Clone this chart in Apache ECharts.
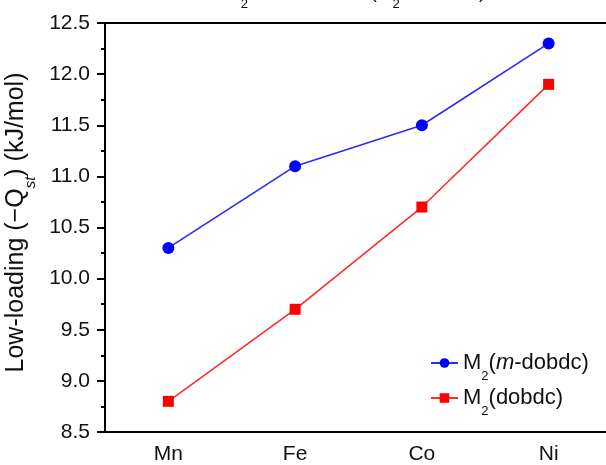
<!DOCTYPE html>
<html>
<head>
<meta charset="utf-8">
<script src="https://cdn.jsdelivr.net/npm/echarts@6/dist/echarts.min.js"></script>
<style>
html,body{margin:0;padding:0;background:#fff;}
#c{width:606px;height:465px;}
</style>
</head>
<body>
<div id="c"></div>
<script>
var categories = ['Mn', 'Fe', 'Co', 'Ni'];
var mDobdc = [10.3, 11.1, 11.5, 12.3];
var dobdc = [8.8, 9.7, 10.7, 11.9];
var yMin = 8.5, yMax = 12.5, yStep = 0.5;

var FONT = 'Liberation Sans, Arial, sans-serif';
var chart = echarts.init(document.getElementById('c'));

chart.setOption({
  animation: false,
  backgroundColor: '#fff',
  title: {
    text: '{n|H}{s|2}{n| isosteric heat (M}{s|2}{n| }{i|m}{n|-dobdc)}',
    left: 222, top: -22,
    textStyle: {
      fontWeight: 'normal',
      rich: {
        n: {fontSize: 19, fontFamily: FONT, color: '#111', fontWeight: 'normal'},
        i: {fontSize: 19, fontFamily: FONT, color: '#111', fontStyle: 'italic', fontWeight: 'normal'},
        s: {fontSize: 13, fontFamily: FONT, color: '#111', fontWeight: 'normal', verticalAlign: 'bottom', padding: [0, 0, -9, 0]}
      }
    }
  },
  grid: {left: 105, top: 23, width: 507, height: 409, outerBoundsMode: 'none', containLabel: false, show: false},
  legend: {
    left: 425, top: 347, orient: 'vertical', itemGap: 4, itemWidth: 27, itemHeight: 12,
    data: ['m', 'd'],
    formatter: function (name) {
      return name === 'm' ? '{n|M}{s|2}{n|(}{i|m}{n|-dobdc)}' : '{n|M}{s|2}{n|(dobdc)}';
    },
    textStyle: {
      rich: {
        n: {fontSize: 22, fontFamily: FONT, color: '#111'},
        i: {fontSize: 22, fontFamily: FONT, color: '#111', fontStyle: 'italic'},
        s: {fontSize: 13, fontFamily: FONT, color: '#111', verticalAlign: 'bottom', padding: [0, 0, -9, 0]}
      }
    }
  },
  xAxis: [{
    type: 'category', data: categories, boundaryGap: true,
    axisLine: {lineStyle: {color: '#000', width: 2}},
    axisTick: {alignWithLabel: true, length: 7, lineStyle: {color: '#000', width: 2}},
    axisLabel: {fontSize: 21, fontFamily: FONT, color: '#111', margin: 12},
    splitLine: {show: false}
  }, {
    type: 'category', data: categories, boundaryGap: true, position: 'bottom',
    axisLine: {show: false},
    axisTick: {length: 5, lineStyle: {color: '#000', width: 2}},
    axisLabel: {show: false},
    splitLine: {show: false}
  }, {
    type: 'category', data: categories, boundaryGap: true, position: 'top',
    axisLine: {show: true, lineStyle: {color: '#000', width: 2}},
    axisTick: {show: false},
    axisLabel: {show: false},
    splitLine: {show: false}
  }],
  yAxis: {
    type: 'value', min: yMin, max: yMax, interval: yStep,
    name: '{n|Low-loading (−Q}{s|st}{n|) (kJ/mol)}',
    nameLocation: 'middle', nameGap: 70, nameRotate: 90,
    nameTextStyle: {
      padding: [0, 0, 0, 10],
      rich: {
        n: {fontSize: 25, fontFamily: FONT, color: '#111'},
        s: {fontSize: 15, fontFamily: FONT, color: '#111', fontStyle: 'italic', verticalAlign: 'bottom', padding: [0, 0, -10, 0]}
      }
    },
    axisLine: {show: true, lineStyle: {color: '#000', width: 2}},
    axisTick: {show: true, length: 8, lineStyle: {color: '#000', width: 2}},
    minorTick: {show: true, splitNumber: 2, length: 4, lineStyle: {color: '#000', width: 2}},
    axisLabel: {fontSize: 21, fontFamily: FONT, color: '#111', margin: 15, formatter: function (v) { return v.toFixed(1); }},
    splitLine: {show: false}
  },
  series: [{
    name: 'm', type: 'line', data: mDobdc,
    symbol: 'circle', symbolSize: 12,
    lineStyle: {color: '#2a2aff', width: 1.6},
    itemStyle: {color: '#0000ff'}
  }, {
    name: 'd', type: 'line', data: dobdc,
    symbol: 'rect', symbolSize: 11,
    lineStyle: {color: '#ff2a2a', width: 1.6},
    itemStyle: {color: '#ff0000'}
  }]
});
</script>
</body>
</html>
